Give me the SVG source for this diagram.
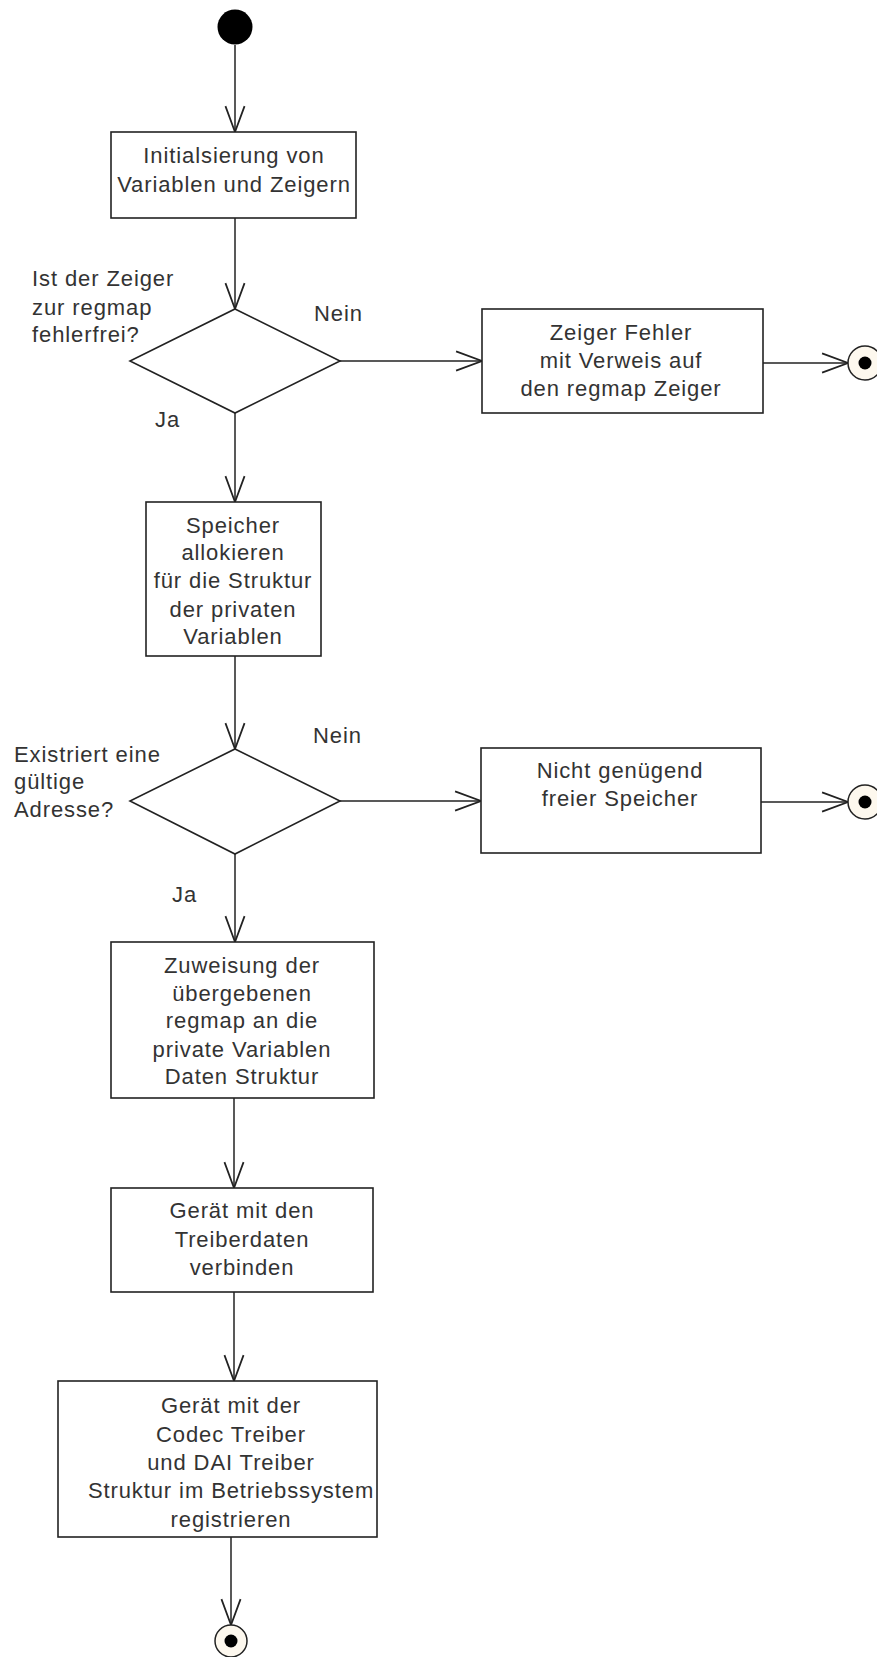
<svg xmlns="http://www.w3.org/2000/svg" width="877" height="1657" viewBox="0 0 877 1657">
<style>
.box{fill:#fff;stroke:#222;stroke-width:1.6}
.dia{fill:#fff;stroke:#222;stroke-width:1.6}
.conn{fill:none;stroke:#222;stroke-width:1.5}
.t{font-family:"Liberation Sans",Arial,sans-serif;font-size:22px;fill:#333;letter-spacing:0.9px}
.c{text-anchor:middle}
.end{fill:#fdf8ee;stroke:#222;stroke-width:1.5}
</style>
<defs>
<marker id="arr" markerUnits="userSpaceOnUse" markerWidth="30" markerHeight="30" viewBox="-20 -10 22 20" refX="0" refY="0" orient="auto" overflow="visible">
<path d="M-19,-7 L0,0 L-19,7" fill="none" stroke="#222" stroke-width="1.3"/>
</marker>
</defs>
<rect width="877" height="1657" fill="#fff"/>
<g id="connectors">
<line class="conn" x1="235" y1="45" x2="235" y2="132" marker-end="url(#arr)"/>
<line class="conn" x1="235" y1="218" x2="235" y2="309" marker-end="url(#arr)"/>
<line class="conn" x1="340" y1="361" x2="482" y2="361" marker-end="url(#arr)"/>
<line class="conn" x1="763" y1="363" x2="848" y2="363" marker-end="url(#arr)"/>
<line class="conn" x1="235" y1="413" x2="235" y2="502" marker-end="url(#arr)"/>
<line class="conn" x1="235" y1="656" x2="235" y2="749" marker-end="url(#arr)"/>
<line class="conn" x1="340" y1="801" x2="481" y2="801" marker-end="url(#arr)"/>
<line class="conn" x1="761" y1="802" x2="848" y2="802" marker-end="url(#arr)"/>
<line class="conn" x1="235" y1="854" x2="235" y2="942" marker-end="url(#arr)"/>
<line class="conn" x1="234" y1="1098" x2="234" y2="1188" marker-end="url(#arr)"/>
<line class="conn" x1="234" y1="1292" x2="234" y2="1381" marker-end="url(#arr)"/>
<line class="conn" x1="231" y1="1537" x2="231" y2="1625" marker-end="url(#arr)"/>
</g>
<g id="start">
<circle cx="235" cy="27" r="17.5" fill="#000"/>
</g>
<g id="init">
<rect class="box" x="111" y="132" width="245" height="86"/>
<text class="t c" x="234" y="163">Initialsierung von</text>
<text class="t c" x="234" y="192">Variablen und Zeigern</text>
</g>
<g id="decision1">
<polygon class="dia" points="235,309 340,361 235,413 130,361"/>
<text class="t" x="32" y="286">Ist der Zeiger</text>
<text class="t" x="32" y="315">zur regmap</text>
<text class="t" x="32" y="342">fehlerfrei?</text>
<text class="t" x="314" y="321">Nein</text>
<text class="t" x="155" y="427">Ja</text>
</g>
<g id="error1">
<rect class="box" x="482" y="309" width="281" height="104"/>
<text class="t c" x="621" y="340">Zeiger Fehler</text>
<text class="t c" x="621" y="368">mit Verweis auf</text>
<text class="t c" x="621" y="396">den regmap Zeiger</text>
</g>
<g id="end1">
<circle class="end" cx="865" cy="363" r="17"/>
<circle cx="865" cy="363" r="6.5" fill="#000"/>
</g>
<g id="alloc">
<rect class="box" x="146" y="502" width="175" height="154"/>
<text class="t c" x="233" y="533">Speicher</text>
<text class="t c" x="233" y="560">allokieren</text>
<text class="t c" x="233" y="588">für die Struktur</text>
<text class="t c" x="233" y="617">der privaten</text>
<text class="t c" x="233" y="644">Variablen</text>
</g>
<g id="decision2">
<polygon class="dia" points="235,749 340,801 235,854 130,801"/>
<text class="t" x="14" y="762">Existriert eine</text>
<text class="t" x="14" y="789">gültige</text>
<text class="t" x="14" y="817">Adresse?</text>
<text class="t" x="313" y="743">Nein</text>
<text class="t" x="172" y="902">Ja</text>
</g>
<g id="error2">
<rect class="box" x="481" y="748" width="280" height="105"/>
<text class="t c" x="620" y="778">Nicht genügend</text>
<text class="t c" x="620" y="806">freier Speicher</text>
</g>
<g id="end2">
<circle class="end" cx="865" cy="802" r="17"/>
<circle cx="865" cy="802" r="6.5" fill="#000"/>
</g>
<g id="assign">
<rect class="box" x="111" y="942" width="263" height="156"/>
<text class="t c" x="242" y="973">Zuweisung der</text>
<text class="t c" x="242" y="1001">übergebenen</text>
<text class="t c" x="242" y="1028">regmap an die</text>
<text class="t c" x="242" y="1057">private Variablen</text>
<text class="t c" x="242" y="1084">Daten Struktur</text>
</g>
<g id="connect">
<rect class="box" x="111" y="1188" width="262" height="104"/>
<text class="t c" x="242" y="1218">Gerät mit den</text>
<text class="t c" x="242" y="1247">Treiberdaten</text>
<text class="t c" x="242" y="1275">verbinden</text>
</g>
<g id="register">
<rect class="box" x="58" y="1381" width="319" height="156"/>
<text class="t c" x="231" y="1413">Gerät mit der</text>
<text class="t c" x="231" y="1442">Codec Treiber</text>
<text class="t c" x="231" y="1470">und DAI Treiber</text>
<text class="t c" x="231" y="1498">Struktur im Betriebssystem</text>
<text class="t c" x="231" y="1527">registrieren</text>
</g>
<g id="end3">
<circle class="end" cx="231" cy="1641" r="16"/>
<circle cx="231" cy="1641" r="6.5" fill="#000"/>
</g>
</svg>
